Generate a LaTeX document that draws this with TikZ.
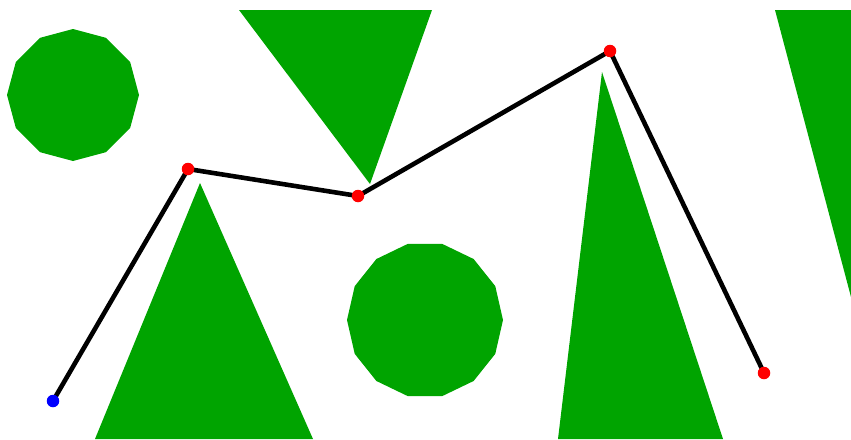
\documentclass[tikz,border=0pt]{standalone}
\definecolor{shapegreen}{RGB}{0,164,0}
\definecolor{dotred}{RGB}{255,0,0}
\definecolor{dotblue}{RGB}{0,0,255}
\tikzset{
  obstacle/.style={fill=shapegreen, draw=none},
  route/.style={draw=black, line width=4.6pt, line join=round},
  waypoint/.style={circle, fill=dotred, draw=none, inner sep=0pt, minimum size=12.5pt},
  startpoint/.style={circle, fill=dotblue, draw=none, inner sep=0pt, minimum size=12.5pt}
}
\begin{document}
\begin{tikzpicture}[x=1pt,y=-1pt]
\useasboundingbox (0,0) rectangle (851,439);
% obstacles
\fill[obstacle] (139,95) \foreach \i in {1,...,11} { -- ({73+66*cos(30*\i)},{95+66*sin(30*\i)}) } -- cycle;
\fill[obstacle] (503,320) \foreach \i in {1,...,13} { -- ({425+78*cos(360/14*\i)},{320+78*sin(360/14*\i)}) } -- cycle;
\fill[obstacle] (239,10) -- (432,10) -- (370,184) -- cycle;
\fill[obstacle] (775,10) -- (851,10) -- (851,297) -- cycle;
\fill[obstacle] (200,183) -- (313,439) -- (95,439) -- cycle;
\fill[obstacle] (602,72) -- (723,439) -- (558,439) -- cycle;
% path
\coordinate (p0) at (53,401);
\coordinate (p1) at (188,169);
\coordinate (p2) at (358,196);
\coordinate (p3) at (610,51);
\coordinate (p4) at (764,373);
\draw[route] (p0) -- (p1) -- (p2) -- (p3) -- (p4);
\node[startpoint] (d0) at (p0) {};
\node[waypoint] (d1) at (p1) {};
\node[waypoint] (d2) at (p2) {};
\node[waypoint] (d3) at (p3) {};
\node[waypoint] (d4) at (p4) {};
\end{tikzpicture}
\end{document}
